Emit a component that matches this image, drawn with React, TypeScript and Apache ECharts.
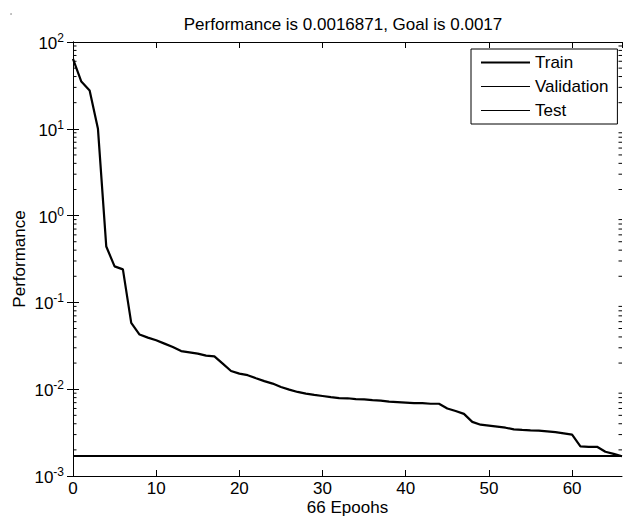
import React, { useEffect, useRef } from "react";
import * as echarts from "echarts";

const titleText = "Performance is 0.0016871, Goal is 0.0017";
const xName = "66 Epoohs";
const yName = "Performance";
const seriesNames = ["Train", "Validation", "Test"];
const goal = 0.0017;
const xMax = 66;

// training performance per epoch (0..66)
const trainPerf = [
  64, 35, 27.7, 10.0, 0.44, 0.26, 0.24, 0.058, 0.0426, 0.0393,
  0.0366, 0.0335, 0.0306, 0.0275, 0.0266, 0.0257, 0.0244, 0.0239, 0.0197, 0.0162,
  0.0151, 0.0145, 0.0134, 0.0124, 0.0116, 0.0106, 0.0099, 0.0093, 0.0089, 0.0086,
  0.00835, 0.0081, 0.0079, 0.00786, 0.0077, 0.00765, 0.0075, 0.0074, 0.0072, 0.0071,
  0.0070, 0.0069, 0.0069, 0.0068, 0.0068, 0.0060, 0.0056, 0.0052, 0.0042, 0.0039,
  0.0038, 0.0037, 0.0036, 0.00345, 0.0034, 0.00336, 0.00334, 0.00327, 0.0032, 0.0031,
  0.0030, 0.0022, 0.00217, 0.00217, 0.0019, 0.0018, 0.0016871,
];
const validationPerf: number[][] = [];
const testPerf: number[][] = [];

// log-axis minor tick positions
const decades = [0.001, 0.01, 0.1, 1, 10];
const minorMultipliers = [2, 3, 4, 5, 6, 7, 8, 9];

const FONT = "Liberation Sans, Arial, Helvetica, sans-serif";

export default function App() {
  const ref = useRef<HTMLDivElement>(null);
  useEffect(() => {
    if (!ref.current) return;
    const chart = echarts.init(ref.current, null, { renderer: "svg" });
    const minorVals: number[] = [];
    decades.forEach((d) => minorMultipliers.forEach((m) => minorVals.push(m * d)));

    const supFmt = (v: number) => {
      const e = Math.round(Math.log10(v));
      return `{b|10}{s|${e}}`;
    };

    const axisLine = { show: true, lineStyle: { color: "#000", width: 1 } };
    const tickSeries = (xv: number, offset: number) => ({
      name: "minor" + xv,
      type: "scatter",
      xAxisIndex: 0,
      yAxisIndex: 0,
      silent: true,
      clip: false,
      symbol: "rect",
      symbolSize: [3.5, 1],
      symbolOffset: [offset, 0],
      itemStyle: { color: "#000", opacity: 1 },
      data: minorVals.map((v) => [xv, v]),
      z: 5,
    });

    chart.setOption({
      animation: false,
      backgroundColor: "#fff",
      textStyle: { fontFamily: FONT },
      grid: { left: 73, right: 1, top: 42, bottom: 42, containLabel: false, outerBoundsMode: "none" },
      graphic: [
        {
          type: "text",
          x: 343,
          y: 24,
          style: {
            text: titleText,
            fontFamily: FONT,
            fontSize: 17,
            fill: "#000",
            textAlign: "center",
            textVerticalAlign: "middle",
          },
        },
        { type: "circle", shape: { cx: 11, cy: 14, r: 0.7 }, style: { fill: "#666" } },
      ],
      legend: {
        orient: "vertical",
        left: 471,
        top: 49,
        padding: [5, 9, 5, 10],
        itemWidth: 49,
        itemHeight: 17,
        itemGap: 7,
        itemTextGap: 5,
        backgroundColor: "#fff",
        borderColor: "#000",
        borderWidth: 1,
        borderRadius: 0,
        selectedMode: false,
        textStyle: { fontFamily: FONT, fontSize: 17, color: "#000" },
        itemStyle: { borderWidth: 0, color: "#000" },
        data: [
          { name: seriesNames[0], icon: "path://M0 0H49V2.2H0Z" },
          { name: seriesNames[1], icon: "path://M0 0H49V1H0Z" },
          { name: seriesNames[2], icon: "path://M0 0H49V1H0Z" },
        ],
      },
      xAxis: [
        {
          type: "value",
          min: 0,
          max: xMax,
          interval: 10,
          position: "bottom",
          name: xName,
          nameLocation: "middle",
          nameGap: 23,
          nameMoveOverlap: false,
          nameTextStyle: { fontFamily: FONT, fontSize: 17, color: "#000", lineHeight: 17 },
          axisLine,
          axisTick: { show: true, inside: true, length: 6, lineStyle: { color: "#000" } },
          axisLabel: {
            fontFamily: FONT,
            fontSize: 17,
            lineHeight: 17,
            color: "#000",
            margin: 4,
            showMaxLabel: false,
          },
          splitLine: { show: false },
        },
        {
          type: "value",
          min: 0,
          max: xMax,
          interval: 10,
          position: "top",
          axisLine,
          axisTick: { show: true, inside: true, length: 6, lineStyle: { color: "#000" } },
          axisLabel: { show: false },
          splitLine: { show: false },
        },
      ],
      yAxis: [
        {
          type: "log",
          logBase: 10,
          min: 0.001,
          max: 100,
          position: "left",
          name: yName,
          nameLocation: "middle",
          nameGap: 45,
          nameMoveOverlap: false,
          nameTextStyle: { fontFamily: FONT, fontSize: 17, color: "#000" },
          axisLine,
          axisTick: { show: true, inside: true, length: 6, lineStyle: { color: "#000" } },
          axisLabel: {
            margin: 9,
            formatter: supFmt,
            rich: {
              b: { fontFamily: FONT, fontSize: 17, color: "#000", lineHeight: 20, verticalAlign: "bottom" },
              s: { fontFamily: FONT, fontSize: 12, color: "#000", lineHeight: 8, verticalAlign: "top" },
            },
          },
          splitLine: { show: false },
        },
        {
          type: "log",
          logBase: 10,
          min: 0.001,
          max: 100,
          position: "right",
          axisLine,
          axisTick: { show: true, inside: true, length: 6, lineStyle: { color: "#000" } },
          axisLabel: { show: false },
          splitLine: { show: false },
        },
      ],
      series: [
        tickSeries(0, 1.75),
        tickSeries(xMax, -1.75),
        {
          name: "Goal",
          type: "line",
          xAxisIndex: 0,
          yAxisIndex: 0,
          data: [
            [0, goal],
            [xMax, goal],
          ],
          symbol: "none",
          color: "#000",
          lineStyle: { color: "#000", width: 2.2 },
          silent: true,
          z: 2,
        },
        {
          name: seriesNames[0],
          type: "line",
          xAxisIndex: 0,
          yAxisIndex: 0,
          data: trainPerf.map((v, i) => [i, v]),
          symbol: "none",
          color: "#000",
          lineStyle: { color: "#000", width: 2.2 },
          z: 3,
        },
        {
          name: seriesNames[1],
          type: "line",
          data: validationPerf,
          symbol: "none",
          color: "#000",
          lineStyle: { color: "#000", width: 1 },
        },
        {
          name: seriesNames[2],
          type: "line",
          data: testPerf,
          symbol: "none",
          color: "#000",
          lineStyle: { color: "#000", width: 1 },
        },
      ],
    });
    return () => chart.dispose();
  }, []);
  return (
    <div
      ref={ref}
      style={{ position: "fixed", left: 0, top: 0, width: 623, height: 518, background: "#fff" }}
    />
  );
}
